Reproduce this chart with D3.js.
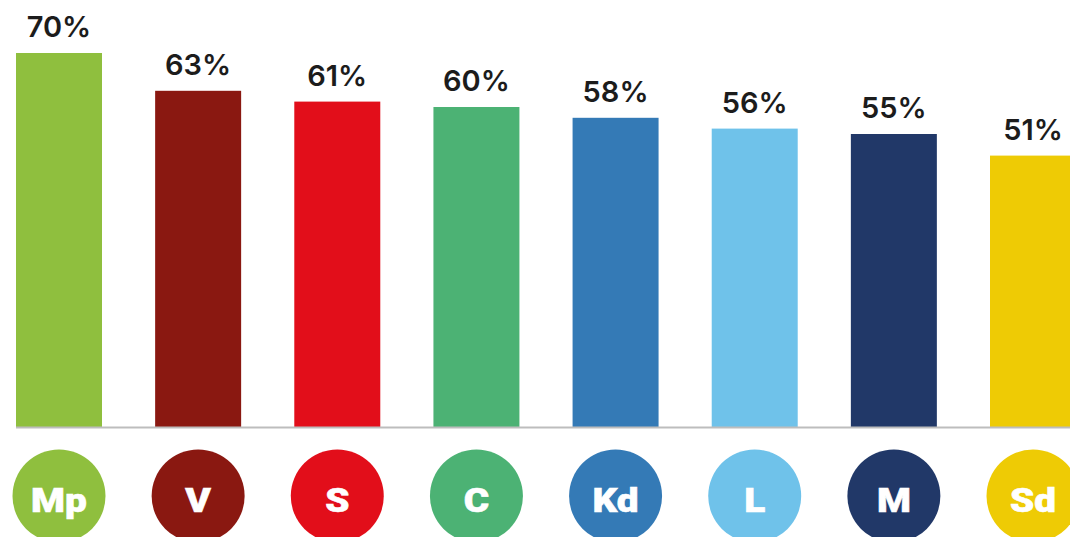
<!DOCTYPE html>
<html><head><meta charset="utf-8">
<script src="https://cdn.jsdelivr.net/npm/d3@7"></script>
<style>html,body{margin:0;padding:0;background:#fff;overflow:hidden}</style>
</head><body>
<svg id="chart" width="1070" height="537"></svg>
<script>
const parties = ["Mp","V","S","C","Kd","L","M","Sd"];
const values = [70,63,61,60,58,56,55,51];
const colors = ["#8fbf3e","#8a1811","#e20e1a","#4cb274","#347ab6","#6fc2ea","#213868","#eecb05"];

const svg = d3.select("#chart");
const baseY = 427;
const x = d3.scaleBand().domain(parties).range([16,1076]).paddingInner(0.382).paddingOuter(0);
const y = d3.scaleLinear().domain([0,70]).range([431,53]);

const data = parties.map((p,i)=>({p, v:values[i], c:colors[i]}));

svg.selectAll("rect.bar").data(data).join("rect")
  .attr("class","bar")
  .attr("x",d=>x(d.p)).attr("width",x.bandwidth())
  .attr("y",d=>y(d.v)).attr("height",d=>baseY - y(d.v))
  .attr("fill",d=>d.c);

svg.append("line").attr("x1",16).attr("x2",1070).attr("y1",baseY+0.5).attr("y2",baseY+0.5)
  .attr("stroke","#bdbdbd").attr("stroke-width",2);

svg.selectAll("text.val").data(data).join("text")
  .attr("class","val")
  .attr("x",d=>x(d.p)+x.bandwidth()/2).attr("y",d=>y(d.v)-16)
  .attr("text-anchor","middle")
  .attr("font-family","Inter, sans-serif").attr("font-weight",600)
  .attr("font-size",29).attr("fill","#1c1c1c")
  .text(d=>d.v+"%");

const g = svg.selectAll("g.badge").data(data).join("g")
  .attr("class","badge")
  .attr("transform",d=>`translate(${x(d.p)+x.bandwidth()/2},496)`);
g.append("circle").attr("r",46.5).attr("fill",d=>d.c);
g.append("text").attr("y",16).attr("text-anchor","middle")
  .attr("transform","scale(1.14,1)")
  .attr("font-family","Roboto, sans-serif").attr("font-weight",900)
  .attr("font-size",34).attr("fill","#fff")
  .attr("stroke","#fff").attr("stroke-width",0.6)
  .text(d=>d.p);
</script>
</body></html>
